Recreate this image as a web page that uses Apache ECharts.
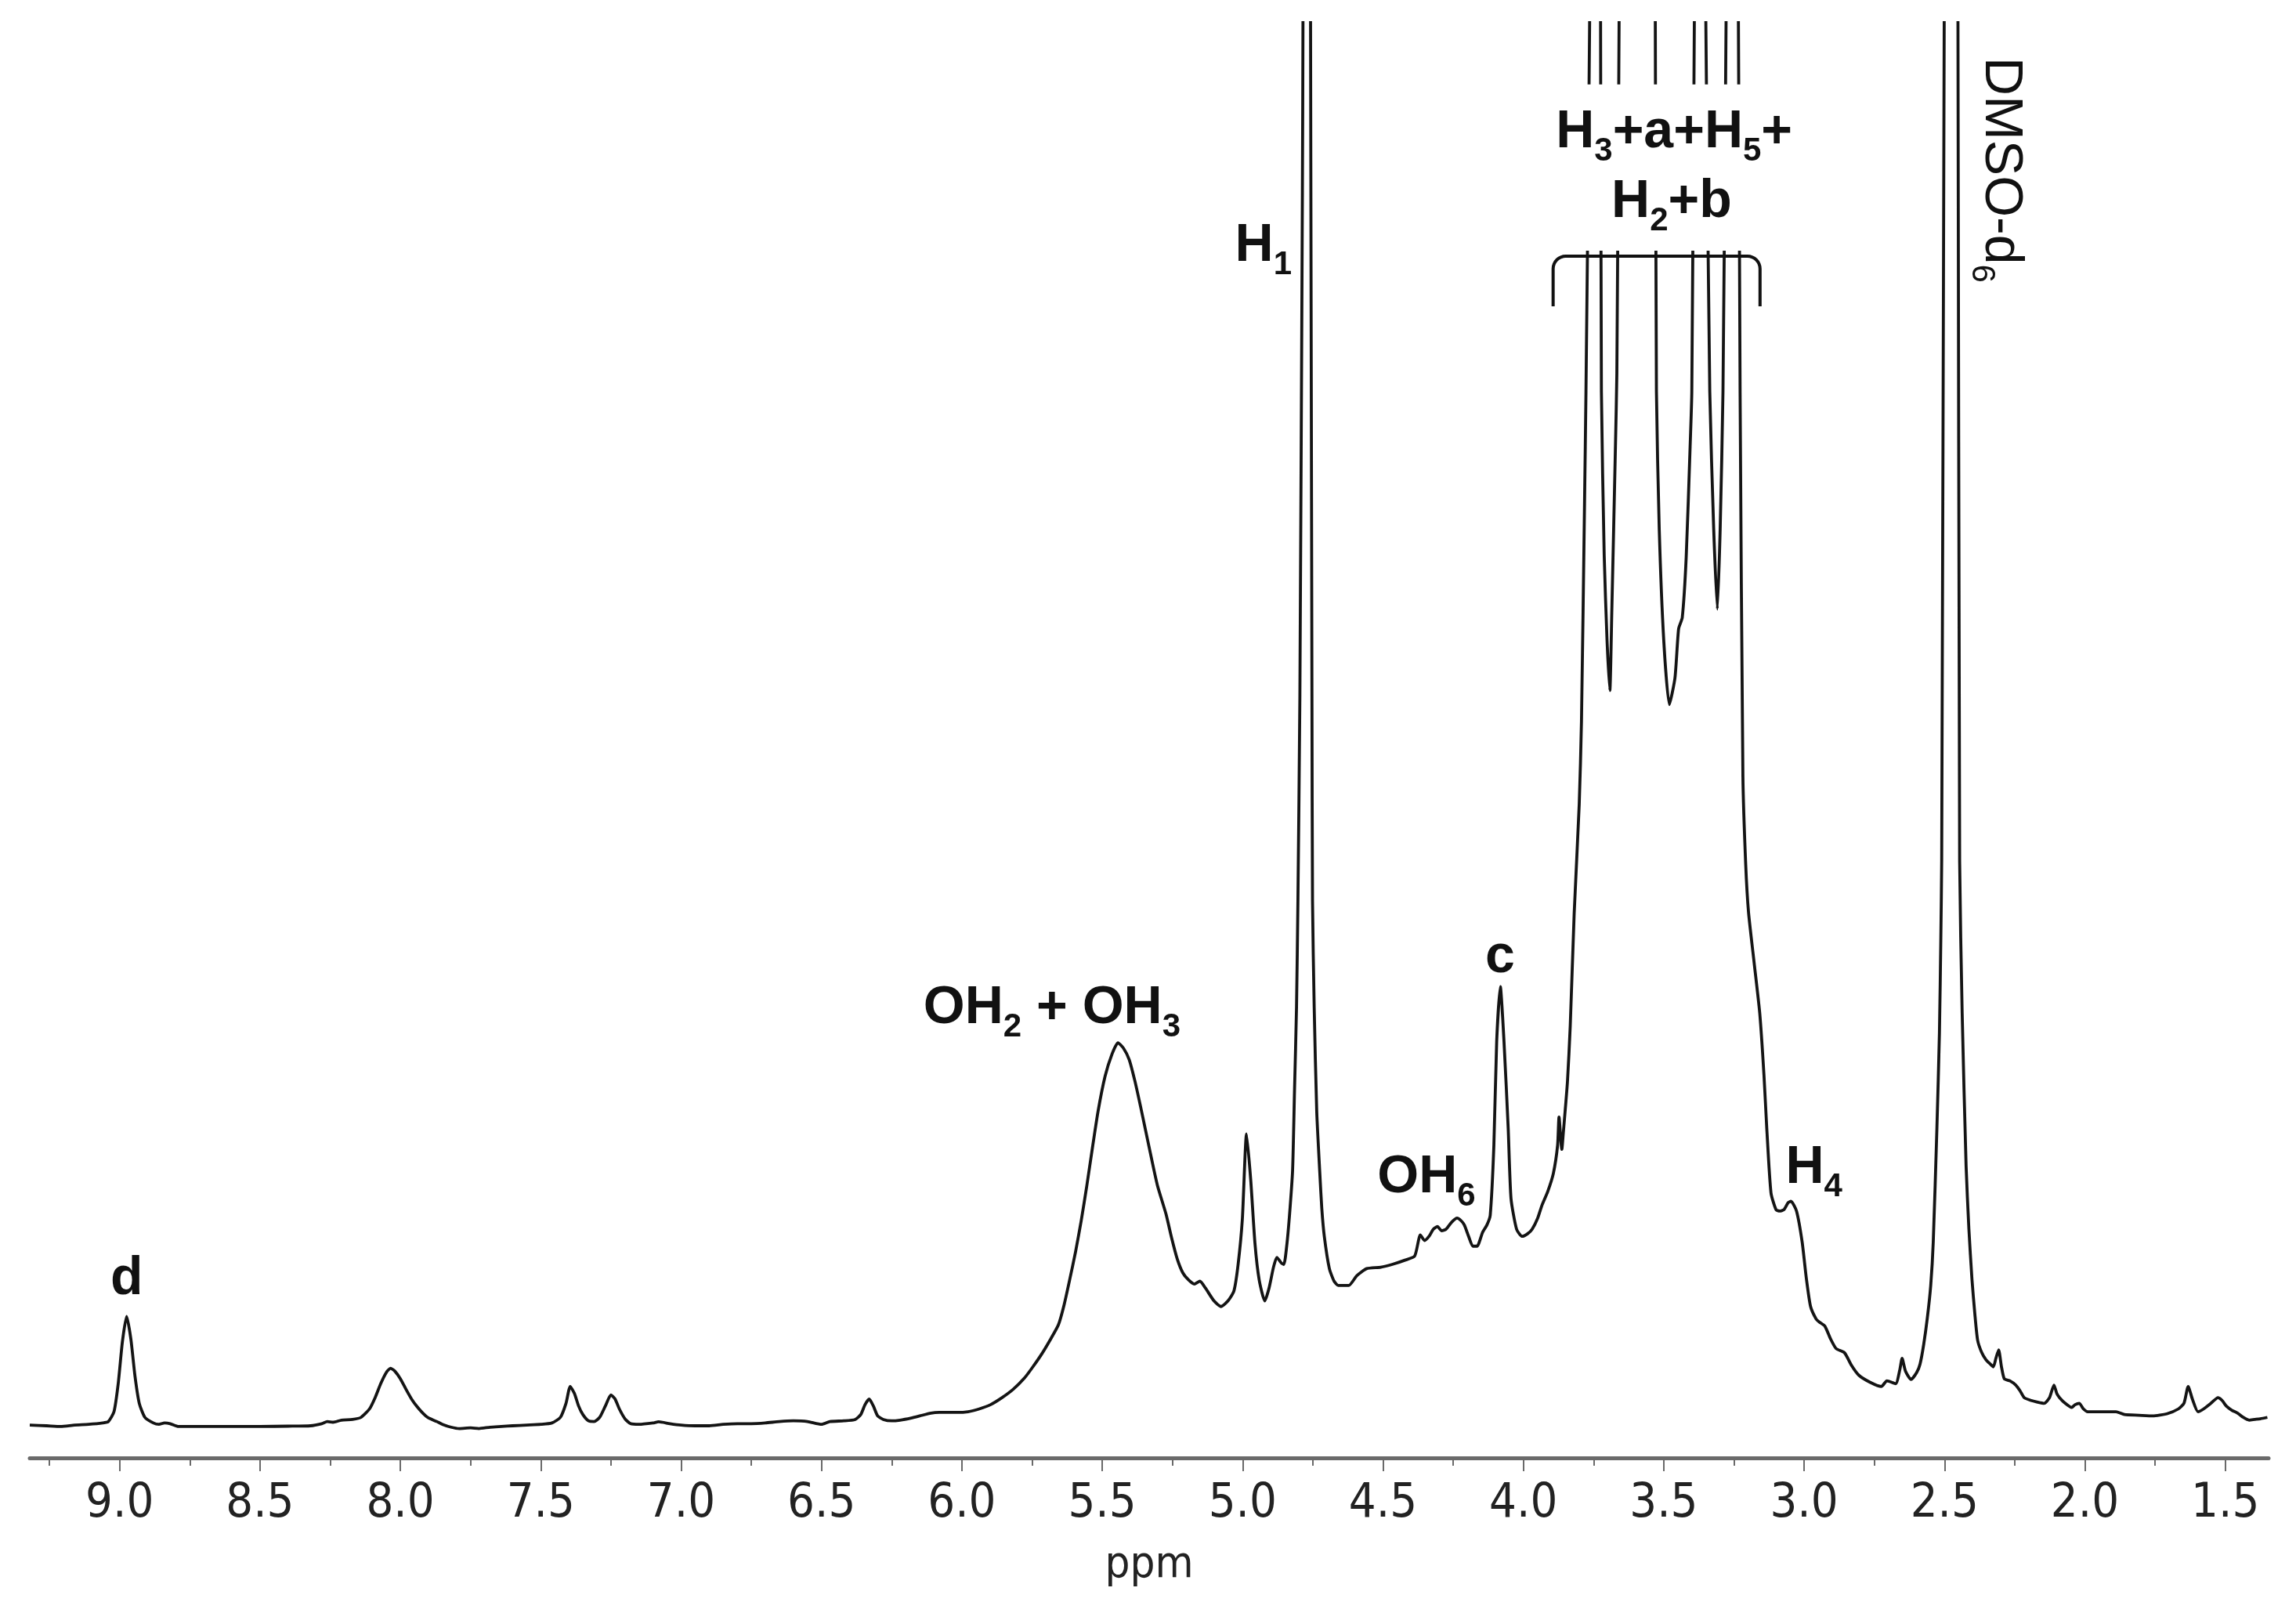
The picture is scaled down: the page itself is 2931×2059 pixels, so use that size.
<!DOCTYPE html>
<html>
<head>
<meta charset="utf-8">
<script src="https://cdn.jsdelivr.net/npm/echarts@6/dist/echarts.min.js"></script>
<style>
html,body{margin:0;padding:0;background:#fff;}
#chart{width:2931px;height:2059px;}
</style>
</head>
<body>
<div id="chart"></div>
<script>
// ---- data (chemical shift in ppm, relative intensity; baseline = 0, plot top = 100) ----
const ppm = [
 9.32,9.26,9.21,9.16,9.11,9.06,9.04,9.02,9.005,8.99,8.975,8.96,8.945,8.93,8.91,8.88,8.86,8.84,8.82,8.79,
 8.70,8.60,8.50,8.40,8.32,8.28,8.26,8.24,8.21,8.17,8.14,8.11,8.09,8.07,8.05,8.035,8.02,8.00,7.98,7.96,
 7.94,7.92,7.90,7.87,7.85,7.82,7.79,7.75,7.72,7.68,7.64,7.60,7.55,7.50,7.46,7.43,7.41,7.395,7.38,7.365,
 7.35,7.33,7.31,7.29,7.27,7.25,7.235,7.22,7.20,7.18,7.15,7.10,7.08,7.04,7.00,6.95,6.90,6.85,6.80,6.75,
 6.70,6.65,6.60,6.55,6.50,6.47,6.42,6.38,6.36,6.345,6.33,6.315,6.30,6.28,6.25,6.22,6.18,6.15,6.11,6.08,
 6.019,5.978,5.938,5.898,5.857,5.817,5.777,5.747,5.716,5.686,5.656,5.636,5.616,5.595,5.575,5.555,5.535,5.515,5.490,5.465,
 5.444,5.424,5.404,5.384,5.364,5.344,5.324,5.303,5.273,5.253,5.233,5.213,5.193,5.172,5.152,5.132,5.102,5.077,5.052,5.031,
 5.016,5.001,4.986,4.971,4.956,4.941,4.921,4.906,4.890,4.878,4.862,4.853,4.843,4.833,4.822,4.815,4.808,4.803,4.796,4.787,
 4.785,4.779,4.772,4.765,4.758,4.756,4.753,4.751,4.745,4.736,4.725,4.718,4.709,4.691,4.674,4.659,4.644,4.622,4.593,4.558,
 4.508,4.467,4.422,4.387,4.367,4.352,4.336,4.321,4.306,4.291,4.276,4.256,4.236,4.221,4.210,4.195,4.180,4.165,4.145,4.130,
 4.118,4.105,4.095,4.082,4.069,4.054,4.044,4.024,4.004,3.984,3.969,3.949,3.934,3.913,3.893,3.878,3.873,3.863,3.858,3.843,
 3.833,3.819,3.801,3.793,3.782,3.777,3.764,3.752,3.737,3.725,3.722,3.712,3.702,3.692,3.685,3.672,3.667,3.659,3.646,3.591,
 3.541,3.530,3.526,3.516,3.500,3.480,3.460,3.447,3.434,3.420,3.406,3.400,3.391,3.369,3.350,3.336,3.322,3.309,3.299,3.289,
 3.278,3.259,3.234,3.228,3.218,3.208,3.198,3.178,3.158,3.143,3.133,3.118,3.100,3.087,3.072,3.057,3.047,3.027,3.007,2.992,
 2.977,2.957,2.946,2.926,2.906,2.886,2.856,2.831,2.805,2.765,2.725,2.705,2.674,2.659,2.651,2.639,2.619,2.599,2.587,2.574,
 2.561,2.549,2.540,2.527,2.518,2.513,2.510,2.501,2.488,2.478,2.465,2.452,2.446,2.437,2.423,2.413,2.402,2.392,2.382,2.367,
 2.352,2.337,2.326,2.317,2.307,2.297,2.287,2.267,2.246,2.231,2.216,2.191,2.171,2.145,2.126,2.110,2.100,2.090,2.070,2.047,
 2.035,2.020,2.005,1.990,1.949,1.919,1.889,1.859,1.808,1.758,1.708,1.667,1.647,1.632,1.617,1.597,1.577,1.551,1.526,1.511,
 1.496,1.476,1.456,1.436,1.415,1.395,1.375,1.350
];
const intensity = [
 0.05,0.0,-0.05,0.05,0.1,0.2,0.3,1.0,3.0,6.0,7.8,6.2,3.5,1.6,0.6,0.2,0.1,0.2,0.15,-0.05,
 -0.05,-0.05,-0.05,-0.03,0.0,0.15,0.3,0.25,0.4,0.45,0.6,1.2,2.0,3.0,3.8,4.1,3.9,3.35,2.6,1.9,
 1.35,0.9,0.56,0.3,0.1,-0.1,-0.2,-0.15,-0.2,-0.1,-0.05,0.0,0.05,0.1,0.2,0.6,1.6,2.8,2.3,1.4,
 0.8,0.35,0.3,0.6,1.4,2.2,1.9,1.2,0.5,0.15,0.1,0.2,0.28,0.15,0.05,0.0,0.0,0.1,0.15,0.15,
 0.2,0.3,0.35,0.3,0.1,0.3,0.35,0.45,0.8,1.5,1.9,1.4,0.7,0.45,0.35,0.4,0.55,0.7,0.9,0.95,
 0.95,1.0,1.2,1.5,2.0,2.6,3.4,4.2,5.1,6.1,7.2,8.6,10.4,12.4,14.6,17.1,19.8,22.4,24.9,26.5,
 27.3,26.9,26.1,24.6,22.8,20.9,19.0,17.1,15.1,13.4,11.9,10.9,10.4,10.1,10.3,9.8,8.9,8.5,8.9,9.6,
 11.5,14.7,20.8,17.5,13.0,10.4,8.9,9.8,11.3,12.0,11.6,11.5,12.8,15.0,18.2,24.0,29.8,37.4,52.0,88.0,
 100,200,250,200,100,80,52.0,37.4,29.8,22.4,18.0,15.5,13.5,11.2,10.3,10.0,10.0,10.0,10.7,11.2,
 11.3,11.5,11.8,12.1,13.6,13.2,13.5,14.0,14.2,13.9,14.0,14.5,14.8,14.6,14.3,13.5,12.8,12.8,13.8,14.3,
 15.0,20.0,27.4,31.3,27.4,21.2,16.2,14.0,13.5,13.7,14.0,14.8,15.7,16.7,18.0,20.0,22.0,19.7,20.8,24.5,
 28.5,36.5,44.3,50.2,65.9,73.7,100,180,180,100,73.7,62.0,56.0,52.4,58.0,69.8,75.0,100,160,200,
 160,100,73.7,63.9,56.0,51.4,53.3,56.8,57.6,61.9,69.8,73.7,100,160,100,73.7,63.9,58.2,63.9,73.7,
 100,160,100,73.7,46.3,40.0,36.6,33.0,29.4,25.0,21.2,16.6,15.4,15.3,15.4,15.9,16.0,15.3,13.1,10.5,
 8.5,7.6,7.4,7.1,6.2,5.5,5.2,4.3,3.6,3.1,2.8,3.2,3.0,4.0,4.8,3.9,3.3,3.8,4.4,5.8,
 7.7,10.0,13.1,21.2,28.0,34.8,40.2,100,200,250,200,100,40.2,29.4,18.5,14.0,10.4,8.0,6.1,5.2,
 4.7,4.4,4.2,4.8,5.4,4.2,3.35,3.2,2.9,2.5,2.0,1.8,1.7,1.6,2.0,2.9,2.3,2.0,1.6,1.3,
 1.5,1.6,1.2,1.0,1.0,1.0,1.0,0.8,0.75,0.7,0.85,1.2,1.6,2.8,1.9,1.0,1.2,1.6,2.0,1.8,
 1.4,1.1,0.9,0.6,0.4,0.45,0.5,0.6
];
const majorTicks = [9.0,8.5,8.0,7.5,7.0,6.5,6.0,5.5,5.0,4.5,4.0,3.5,3.0,2.5,2.0,1.5];
const tickLabels = ['9.0','8.5','8.0','7.5','7.0','6.5','6.0','5.5','5.0','4.5','4.0','3.5','3.0','2.5','2.0','1.5'];
const minorTicks = [9.25,8.75,8.25,7.75,7.25,6.75,6.25,5.75,5.25,4.75,4.25,3.75,3.25,2.75,2.25,1.75];

// ---- chart ----
const X_MIN = 1.3456, X_MAX = 9.32, Y_MIN = -2.29, Y_MAX = 100;
const AXIS_COLOR = '#6a6a6a';
const TICK_FONT = "'DejaVu Sans Condensed','Liberation Sans Narrow','DejaVu Sans',sans-serif";
const LABEL_FONT = "'Liberation Sans',Arial,Helvetica,sans-serif";

const chart = echarts.init(document.getElementById('chart'), null, {renderer: 'canvas'});
const option = {
  animation: false,
  backgroundColor: '#ffffff',
  grid: {left: 38, right: 35, top: 29, bottom: 198, containLabel: false, outerBoundsMode: 'none'},
  xAxis: [
    {
      type: 'value', min: X_MIN, max: X_MAX, inverse: true, position: 'bottom',
      axisLine: {show: true, onZero: false, lineStyle: {color: AXIS_COLOR, width: 5}},
      axisTick: {show: true, customValues: majorTicks, length: 17, lineStyle: {color: AXIS_COLOR, width: 2}},
      axisLabel: {
        show: true, customValues: majorTicks, margin: 29,
        formatter: v => { const i = majorTicks.findIndex(t => Math.abs(t - v) < 1e-6); return i >= 0 ? tickLabels[i] : ''; },
        fontSize: 61, fontFamily: TICK_FONT, color: '#222'
      },
      splitLine: {show: false},
      name: 'ppm', nameLocation: 'middle', nameGap: 109,
      nameTextStyle: {fontSize: 56, fontFamily: TICK_FONT, color: '#222'}
    },
    {
      type: 'value', min: X_MIN, max: X_MAX, inverse: true, position: 'bottom', gridIndex: 0,
      axisLine: {show: false, onZero: false},
      axisTick: {show: true, customValues: minorTicks, length: 10, lineStyle: {color: AXIS_COLOR, width: 2}},
      axisLabel: {show: false},
      splitLine: {show: false}
    }
  ],
  yAxis: {type: 'value', min: Y_MIN, max: Y_MAX, show: false, splitLine: {show: false}},
  series: [{
    type: 'line',
    xAxisIndex: 0, yAxisIndex: 0,
    data: ppm.map((p, i) => [p, intensity[i]]),
    showSymbol: false, symbol: 'none',
    smooth: 0.2,
    clip: true,
    lineStyle: {color: '#141414', width: 3.8, join: 'round'},
    silent: true
  }]
};
chart.setOption(option);

// ---- annotations (anchored in data coordinates) ----
const MAIN = 68, SUB = 42, SUB_DROP = 15;
const annotations = [
  {segs: [['d', 0]], at: [8.975, 9.1]},
  {segs: [['c', 0]], at: [4.083, 32.05]},
  {segs: [['H', 0], ['1', 1]], at: [4.926, 82.75]},
  {segs: [['OH', 0], ['2', 1], [' + OH', 0], ['3', 1]], at: [5.679, 28.42]},
  {segs: [['OH', 0], ['6', 1]], at: [4.345, 16.36]},
  {segs: [['H', 0], ['4', 1]], at: [2.965, 17.03]},
  {segs: [['H', 0], ['3', 1], ['+a+H', 0], ['5', 1], ['+', 0]], at: [3.463, 90.84]},
  {segs: [['H', 0], ['2', 1], ['+b', 0]], at: [3.472, 85.87]}
];
const solvent = {segs: [['DMSO-d', 0], ['6', 1]], at: [2.367, 97.54]};
const maskBox = {from: [3.916, 95.6], to: [3.009, 83.75]};
const bracket = {from: 3.894, to: 3.157, top: 83.36, foot: 79.79};

const mctx = document.createElement('canvas').getContext('2d');
function fontStr(size, bold) { return (bold ? 'bold ' : '') + size + 'px ' + LABEL_FONT; }
function measure(t, size, bold) { mctx.font = fontStr(size, bold); return mctx.measureText(t).width; }
function px(p) { return chart.convertToPixel({xAxisIndex: 0, yAxisIndex: 0}, p); }

function buildLabel(segs, bold) {
  let x = 0; const kids = [];
  segs.forEach(([t, sub]) => {
    const size = sub ? SUB : MAIN;
    const base = sub ? SUB_DROP : 0;
    kids.push({
      type: 'text', x: x, y: base - 0.35 * size, silent: true, z: 110,
      style: {text: t, font: fontStr(size, bold), fill: '#111', textAlign: 'left', textVerticalAlign: 'middle'}
    });
    x += measure(t, size, bold);
  });
  return {kids, width: x};
}

const graphics = [];
// white mask behind the multiplet label
const b0 = px(maskBox.from), b1 = px(maskBox.to);
graphics.push({type: 'rect', silent: true, z: 100,
  shape: {x: b0[0], y: b0[1], width: b1[0] - b0[0], height: b1[1] - b0[1]},
  style: {fill: '#ffffff'}});
// bracket with rounded corners
const k0 = px([bracket.from, bracket.top]), k1 = px([bracket.to, bracket.top]);
const kf = px([bracket.from, bracket.foot]);
const r = 16, xL = k0[0], xR = k1[0], yT = k0[1], yF = kf[1];
const pts = [[xL, yF]];
for (let i = 0; i <= 8; i++) { const a = Math.PI + (Math.PI / 2) * i / 8; pts.push([xL + r + r * Math.cos(a), yT + r + r * Math.sin(a)]); }
for (let i = 0; i <= 8; i++) { const a = 1.5 * Math.PI + (Math.PI / 2) * i / 8; pts.push([xR - r + r * Math.cos(a), yT + r + r * Math.sin(a)]); }
pts.push([xR, yF]);
graphics.push({type: 'polyline', silent: true, z: 101, shape: {points: pts},
  style: {fill: null, stroke: '#111', lineWidth: 4}});
// labels
annotations.forEach(a => {
  const L = buildLabel(a.segs, true);
  const p = px(a.at);
  graphics.push({type: 'group', x: p[0] - L.width / 2, y: p[1], z: 110, silent: true, children: L.kids});
});
// rotated solvent label
const S = buildLabel(solvent.segs, false);
const sp = px(solvent.at);
graphics.push({type: 'group', x: sp[0], y: sp[1], rotation: -Math.PI / 2, z: 110, silent: true, children: S.kids});

chart.setOption({graphic: graphics});
</script>
</body>
</html>
